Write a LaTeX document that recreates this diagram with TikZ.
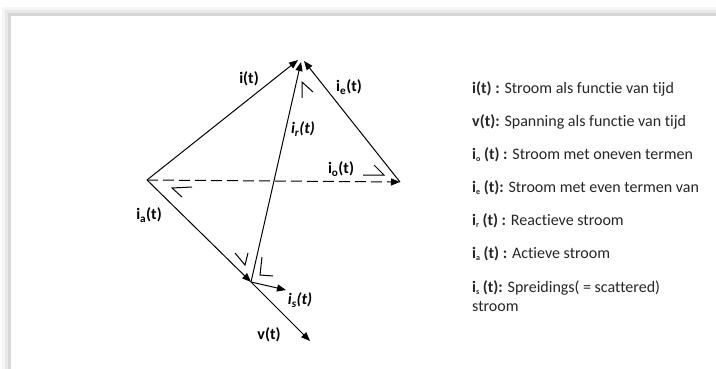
\documentclass[tikz,border=0pt]{standalone}
\usepackage{fontspec}
\setmainfont{Carlito}[Ligatures=NoCommon]
\usetikzlibrary{arrows.meta}
\newcommand\legsub[1]{\raisebox{-1.5pt}{\fontsize{8}{8}\selectfont #1}}
\begin{document}
\begin{tikzpicture}[x=1pt,y=-1pt,
  vec/.style={line width=1pt,-{Triangle[length=9pt,width=7pt]}},
  anglemark/.style={line width=1pt},
  lbl/.style={font=\fontsize{16}{18}\selectfont\bfseries,inner sep=0pt},
  ilbl/.style={font=\fontsize{16}{18}\selectfont\bfseries\itshape,inner sep=0pt},
  leg/.style={font=\fontsize{16}{18}\selectfont,anchor=west,inner sep=0pt,text=black!85}]
\useasboundingbox (0,0) rectangle (716,369);
% panel with shadow
\fill[black!4] (2,7) rectangle (716,369);
\fill[black!9] (5,10) rectangle (716,369);
\fill[black!16] (8,13) rectangle (716,369);
\fill[white] (11,16) rectangle (716,369);
% vertices
\coordinate (L) at (147,180);
\coordinate (T) at (298,60);
\coordinate (Tr) at (301,62);
\coordinate (Te) at (304,61);
\coordinate (R) at (400,182);
\coordinate (B) at (251,282);
\coordinate (S) at (286,290);
\coordinate (V) at (310,341);
% vectors
\draw[vec] (L) -- (T);
\draw[vec] (B) -- (Tr);
\draw[vec] (R) -- (Te);
\draw[vec,dash pattern=on 11pt off 5pt] (L) -- (R);
\draw[vec] (L) -- (B);
\draw[vec] (B) -- (S);
\draw[vec] (B) -- (V);
% right-angle marks
\draw[anglemark] (302,98) -- (302,82) -- (313,92);
\draw[anglemark] (363,175) -- (384,175) -- (374,165);
\draw[anglemark] (192,187) -- (172,188) -- (182,197);
\draw[anglemark] (235,253) -- (245,265) -- (248,253);
\draw[anglemark] (262,257) -- (260,275) -- (273,276);
% labels
\node[lbl] (li) at (249,79) {i(t)};
\node[lbl] (le) at (349,87) {i\textsubscript{e}(t)};
\node[ilbl] (lr) at (303,129) {i\textsubscript{r}(t)};
\node[lbl] (lo) at (341,169) {i\textsubscript{o}(t)};
\node[lbl] (la) at (149,215) {i\textsubscript{a}(t)};
\node[ilbl] (ls) at (300,300) {i\textsubscript{s}(t)};
\node[lbl] (lv) at (269,335) {v(t)};
% legend
\node[leg] (g1) at (472,89) {\textbf{i(t) :} Stroom als functie van tijd};
\node[leg] (g2) at (472,122) {\textbf{v(t):} Spanning als functie van tijd};
\node[leg] (g3) at (472,155) {\textbf{i\legsub{o} (t) :} Stroom met oneven termen};
\node[leg] (g4) at (472,188) {\textbf{i\legsub{e} (t):} Stroom met even termen van};
\node[leg] (g5) at (472,221) {\textbf{i\legsub{r} (t) :} Reactieve stroom};
\node[leg] (g6) at (472,254) {\textbf{i\legsub{a} (t) :} Actieve stroom};
\node[leg] (g7) at (472,288) {\textbf{i\legsub{s} (t):} Spreidings( = scattered)};
\node[leg] (g8) at (472,306) {stroom};
\end{tikzpicture}
\end{document}
